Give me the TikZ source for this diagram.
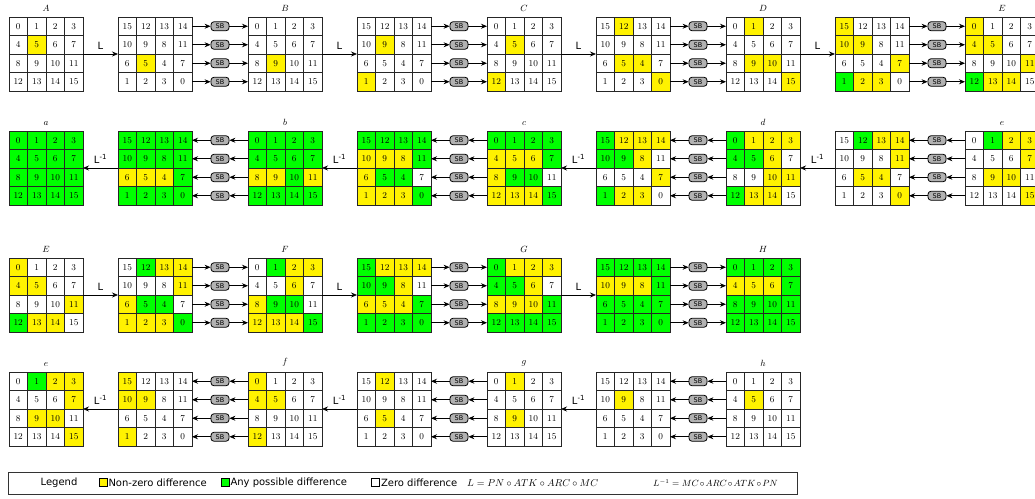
\documentclass[tikz,border=0pt]{standalone}
\usepackage{fontspec}
\setsansfont{DejaVu Sans}
\usetikzlibrary{arrows.meta}
\usetikzlibrary{calc}
\usetikzlibrary{positioning}

\colorlet{fillw}{white}
\colorlet{filly}{yellow}
\colorlet{fillg}{green}
\def\cellsz{18.5}

\tikzset{
  cell/.style={draw=black!85, line width=1pt, minimum size=18.5pt, inner sep=0pt, outer sep=0pt, font=\fontsize{9}{10}\selectfont},
  sbox/.style={draw=black, fill=black!30, rounded corners=3pt, line width=0.8pt, minimum width=18pt, minimum height=9pt, inner sep=0pt, font=\sffamily\fontsize{6.5}{7}\selectfont},
  arr/.style={-{Stealth[length=6pt,width=5pt]}, line width=0.7pt},
  lab/.style={above=1pt, font=\sffamily},
  glab/.style={above=2pt, font=\small},
  swatch/.style={draw=black, line width=0.6pt, minimum size=8pt, inner sep=0pt},
  legtext/.style={font=\sffamily\fontsize{10}{12}\selectfont, inner sep=1pt}
}

% #1 name, #2 left x, #3 top y, #4 s (state) or p (permuted), #5 colours
\newcommand{\grid}[5]{%
  \foreach \cf [count=\idx from 0] in {#5} {
    \pgfmathtruncatemacro{\gr}{div(\idx,4)}
    \pgfmathtruncatemacro{\gc}{mod(\idx,4)}
    \ifx#4p\pgfmathtruncatemacro{\cellval}{{15,12,13,14,10,9,8,11,6,5,4,7,1,2,3,0}[\idx]}\else\let\cellval\idx\fi
    \node[cell, fill=fill\cf] (#1-\idx) at ({#2+(\gc+0.5)*\cellsz}, {-#3-(\gr+0.5)*\cellsz}) {\cellval};
  }
}
% sboxes between a permuted grid and the next state, forward
\newcommand{\sbfwd}[2]{%
  \foreach \r in {0,...,3} {
    \pgfmathtruncatemacro{\kl}{4*\r+3}
    \pgfmathtruncatemacro{\kr}{4*\r}
    \node[sbox] (#2-sb\r) at ($(#1-\kl.east)!0.5!(#2-\kr.west)$) {SB};
    \draw[arr] (#1-\kl.east) -- (#2-sb\r);
    \draw[arr] (#2-sb\r) -- (#2-\kr.west);
  }
}
% same, backward
\newcommand{\sbbwd}[2]{%
  \foreach \r in {0,...,3} {
    \pgfmathtruncatemacro{\kl}{4*\r+3}
    \pgfmathtruncatemacro{\kr}{4*\r}
    \node[sbox] (#2-sb\r) at ($(#1-\kl.east)!0.5!(#2-\kr.west)$) {SB};
    \draw[arr] (#2-\kr.west) -- (#2-sb\r);
    \draw[arr] (#2-sb\r) -- (#1-\kl.east);
  }
}
\newcommand{\lfwd}[2]{\draw[arr] (#1-7.south east) -- node[lab] (L-#2) {L} (#2-8.north west);}
\newcommand{\lbwd}[2]{\draw[arr] (#2-8.north west) -- node[lab] (L-#2) {L\textsuperscript{-1}} (#1-7.south east);}

\begin{document}
\begin{tikzpicture}[x=1pt, y=1pt]
\useasboundingbox (0,0) rectangle (1035,-498);

% row 1
\grid{A}{9}{17}{s}{w,w,w,w, w,y,w,w, w,w,w,w, w,w,w,w}
\grid{LA}{118}{17}{p}{w,w,w,w, w,w,w,w, w,y,w,w, w,w,w,w}
\grid{B}{248}{17}{s}{w,w,w,w, w,w,w,w, w,y,w,w, w,w,w,w}
\grid{LB}{357}{17}{p}{w,w,w,w, w,y,w,w, w,w,w,w, y,w,w,w}
\grid{C}{487}{17}{s}{w,w,w,w, w,y,w,w, w,w,w,w, y,w,w,w}
\grid{LC}{596}{17}{p}{w,y,w,w, w,w,w,w, w,y,y,w, w,w,w,y}
\grid{D}{726}{17}{s}{w,y,w,w, w,w,w,w, w,y,y,w, w,w,w,y}
\grid{LD}{835}{17}{p}{y,w,w,w, y,y,w,w, w,w,w,y, g,y,y,w}
\grid{E}{965}{17}{s}{y,w,w,w, y,y,w,w, w,w,w,y, g,y,y,w}
\foreach \s/\p/\n in {A/LA/B, B/LB/C, C/LC/D, D/LD/E} {\lfwd{\s}{\p} \sbfwd{\p}{\n}}
\foreach \s in {A,B,C,D,E} {\node[glab] (t-\s) at (\s-1.north east) {$\s$};}

% row 2
\grid{a}{9}{131}{s}{g,g,g,g, g,g,g,g, g,g,g,g, g,g,g,g}
\grid{ia}{118}{131}{p}{g,g,g,g, g,g,g,g, y,y,y,g, g,g,g,g}
\grid{b}{248}{131}{s}{g,g,g,g, g,g,g,g, y,y,g,y, g,g,g,g}
\grid{ib}{357}{131}{p}{g,g,g,g, y,y,y,g, y,g,g,w, y,y,y,g}
\grid{c}{487}{131}{s}{g,g,g,g, y,y,y,g, y,g,g,w, y,y,y,g}
\grid{ic}{596}{131}{p}{g,y,y,y, g,g,y,w, w,w,w,y, g,y,y,w}
\grid{d}{726}{131}{s}{g,y,y,y, g,g,y,w, w,w,y,y, g,y,y,w}
\grid{id}{835}{131}{p}{w,g,y,y, w,w,w,y, w,y,y,w, w,w,w,y}
\grid{e}{965}{131}{s}{w,g,y,y, w,w,w,y, w,y,y,w, w,w,w,y}
\foreach \s/\p/\n in {a/ia/b, b/ib/c, c/ic/d, d/id/e} {\lbwd{\s}{\p} \sbbwd{\p}{\n}}
\foreach \s in {a,b,c,d,e} {\node[glab] (t-\s) at (\s-1.north east) {$\s$};}

% row 3
\grid{E2}{9}{258}{s}{y,w,w,w, y,y,w,w, w,w,w,y, g,y,y,w}
\grid{LE2}{118}{258}{p}{w,g,y,y, w,w,w,y, y,g,g,w, y,y,y,g}
\grid{F}{248}{258}{s}{w,g,y,y, w,w,y,w, y,g,g,w, y,y,y,g}
\grid{LF}{357}{258}{p}{g,y,y,y, g,g,y,w, y,y,y,g, g,g,g,g}
\grid{G}{487}{258}{s}{g,y,y,y, g,g,y,w, y,y,y,g, g,g,g,g}
\grid{LG}{596}{258}{p}{g,g,g,g, y,y,y,g, g,g,g,g, g,g,g,g}
\grid{H}{726}{258}{s}{g,g,g,g, y,y,y,g, g,g,g,g, g,g,g,g}
\foreach \s/\p/\n in {E2/LE2/F, F/LF/G, G/LG/H} {\lfwd{\s}{\p} \sbfwd{\p}{\n}}
\foreach \s/\t in {E2/E,F/F,G/G,H/H} {\node[glab] (t-\s) at (\s-1.north east) {$\t$};}

% row 4
\grid{e2}{9}{372}{s}{w,g,y,y, w,w,w,y, w,y,y,w, w,w,w,y}
\grid{ie2}{118}{372}{p}{y,w,w,w, y,y,w,w, w,w,w,w, y,w,w,w}
\grid{f}{248}{372}{s}{y,w,w,w, y,y,w,w, w,w,w,w, y,w,w,w}
\grid{if}{357}{372}{p}{w,y,w,w, w,w,w,w, w,y,w,w, w,w,w,w}
\grid{g}{487}{372}{s}{w,y,w,w, w,w,w,w, w,y,w,w, w,w,w,w}
\grid{ig}{596}{372}{p}{w,w,w,w, w,y,w,w, w,w,w,w, w,w,w,w}
\grid{h}{726}{372}{s}{w,w,w,w, w,y,w,w, w,w,w,w, w,w,w,w}
\foreach \s/\p/\n in {e2/ie2/f, f/if/g, g/ig/h} {\lbwd{\s}{\p} \sbbwd{\p}{\n}}
\foreach \s/\t in {e2/e,f/f,g/g,h/h} {\node[glab] (t-\s) at (\s-1.north east) {$\t$};}

% legend
\node[draw=black!80, line width=0.6pt, minimum width=789pt, minimum height=22pt, anchor=north west, inner sep=0pt] (legend) at (8,-472) {};
\node[legtext] (legtitle) at (59,-483) {Legend};
\node[swatch, fill=filly] (swy) at (103,-482.5) {};
\node[legtext, right=0pt of swy] (txty) {Non-zero difference};
\node[swatch, fill=fillg] (swg) at (225,-482.5) {};
\node[legtext, right=0pt of swg] (txtg) {Any possible difference};
\node[swatch, fill=fillw] (sww) at (375.5,-482.5) {};
\node[legtext, right=0pt of sww] (txtw) {Zero difference};
\node[anchor=west, inner sep=0pt] (fl) at (467,-483) {$L = PN\circ ATK\circ ARC\circ MC$};
\node[anchor=west, inner sep=0pt, font=\fontsize{8.8}{10}\selectfont] (fli) at (653,-483) {\medmuskip=2mu $L^{-1} = MC\circ ARC\circ ATK\circ PN$};
\end{tikzpicture}
\end{document}
